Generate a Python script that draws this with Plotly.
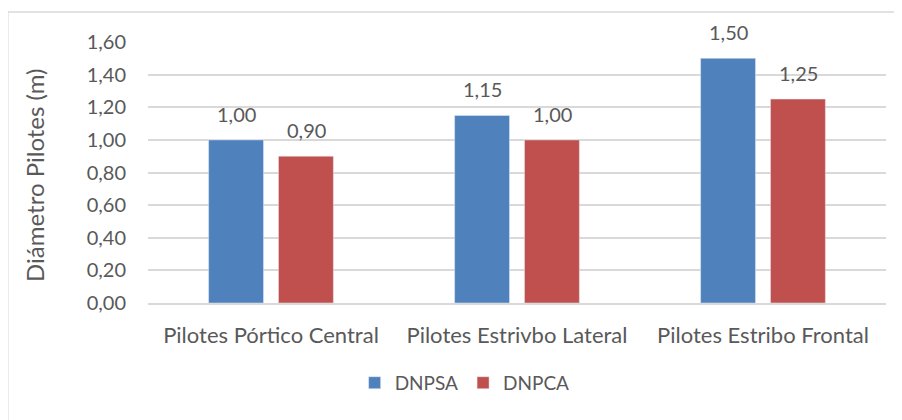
import plotly.graph_objects as go

categories = ["Pilotes Pórtico Central", "Pilotes Estrivbo Lateral", "Pilotes Estribo Frontal"]
dnpsa = [1.00, 1.15, 1.50]
dnpca = [0.90, 1.00, 1.25]
y_ticks = [0.0, 0.2, 0.4, 0.6, 0.8, 1.0, 1.2, 1.4, 1.6]

font_family = "Lato, 'Open Sans', sans-serif"
grey = "#595959"

fig = go.Figure()

fig.add_trace(go.Bar(name="DNPSA", x=categories, y=dnpsa, marker_color="#4f81bd"))
fig.add_trace(go.Bar(name="DNPCA", x=categories, y=dnpca, marker_color="#c0504d"))

# value labels above each bar (spaced a bit higher than plotly's default)
for vals, shift in [(dnpsa, -35), (dnpca, 35)]:
    for cat, v in zip(categories, vals):
        fig.add_annotation(
            x=cat, y=v, xref="x", yref="y",
            text=f"{v:.2f}".replace(".", ","),
            showarrow=False, xshift=shift, yshift=26, yanchor="middle",
            font=dict(size=20, color=grey, family=font_family),
        )

# y axis title
fig.add_annotation(
    x=-0.153, y=0.487, xref="paper", yref="paper",
    text="Diámetro Pilotes (m)", textangle=-90, showarrow=False,
    xanchor="center", yanchor="middle",
    font=dict(size=24, color=grey, family=font_family),
)

# chart border like the spreadsheet frame
fig.add_shape(
    type="rect", xref="paper", yref="paper",
    x0=-0.19, x1=1.1, y0=-0.6, y1=1.115,
    line=dict(color="#d9d9d9", width=1.5),
    layer="below",
)

fig.update_layout(
    width=902,
    height=420,
    margin=dict(l=140, r=24, t=34, b=125, autoexpand=False),
    paper_bgcolor="white",
    plot_bgcolor="white",
    barmode="group",
    bargap=0.432,
    bargroupgap=0.214,
    separators=",.",
    font=dict(family=font_family, color=grey, size=18),
    showlegend=True,
    legend=dict(
        orientation="h",
        x=0.28, xanchor="left",
        y=-0.306, yanchor="middle",
        font=dict(size=19, color=grey),
        itemwidth=30,
    ),
    yaxis=dict(
        range=[0, 1.6],
        tickvals=y_ticks,
        tickformat=".2f",
        showgrid=True,
        gridcolor="#d9d9d9",
        gridwidth=1.5,
        zeroline=False,
        showline=False,
        ticks="",
        automargin=False,
        ticklabelstandoff=21,
        tickfont=dict(size=20, color=grey),
    ),
    xaxis=dict(
        showline=True,
        linecolor="#d9d9d9",
        linewidth=1.5,
        ticks="",
        automargin=False,
        ticklabelstandoff=12,
        tickfont=dict(size=22, color=grey),
    ),
)

fig.write_html("out.html")
